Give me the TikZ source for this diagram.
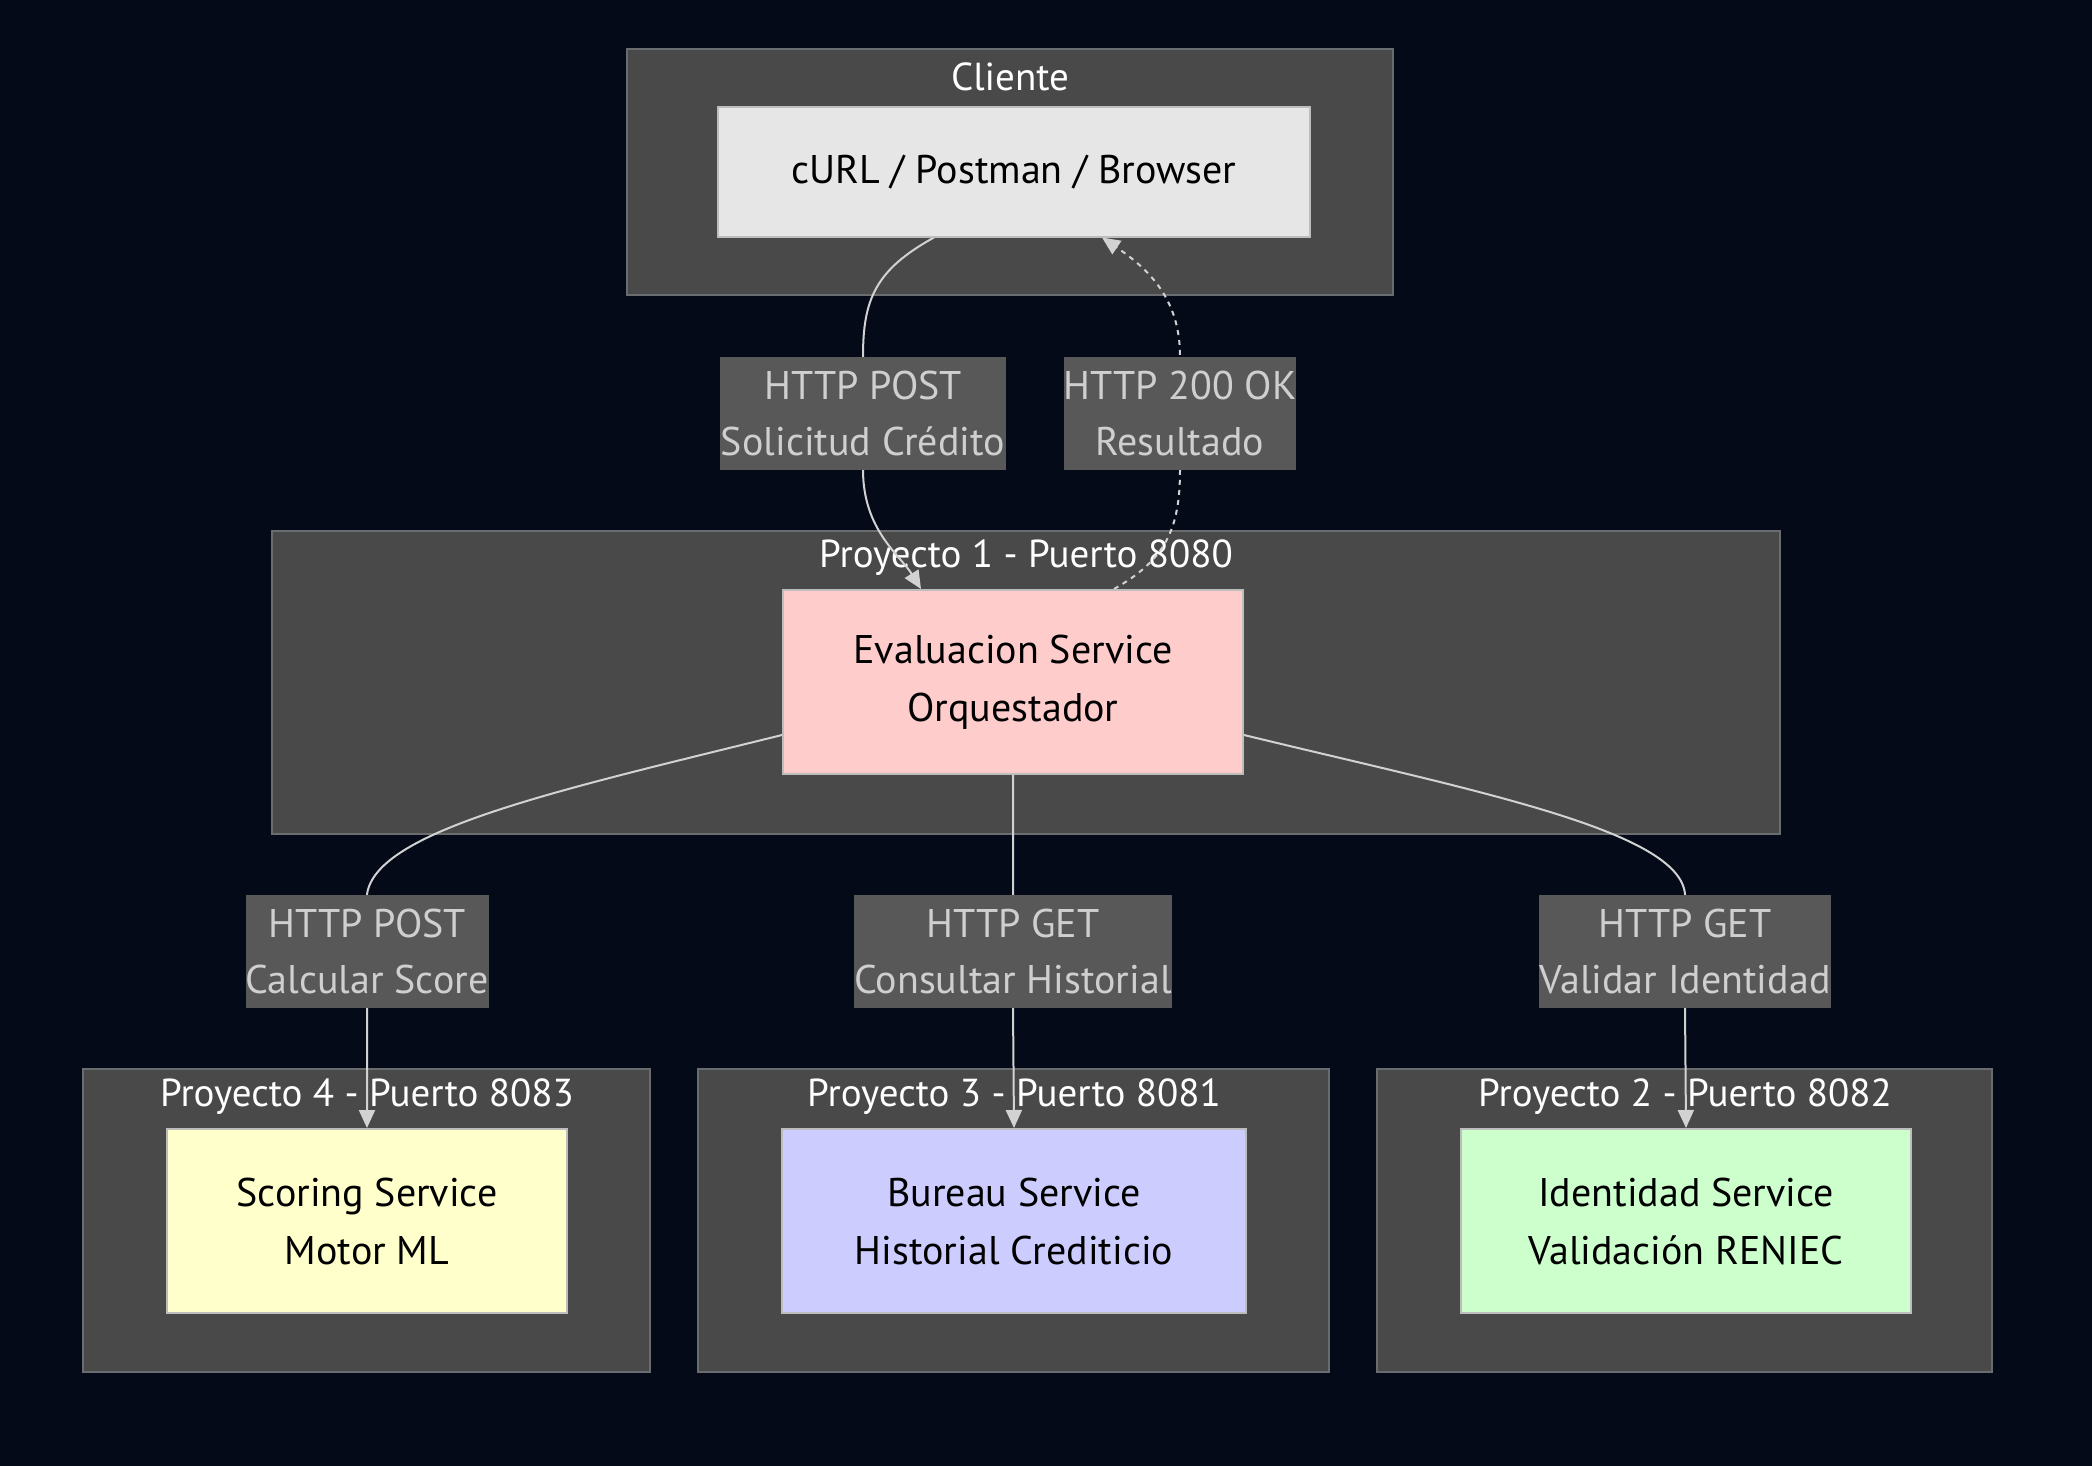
\documentclass[tikz,border=0pt]{standalone}
\usepackage{fontspec}
\setmainfont{PT Sans}
\usetikzlibrary{arrows.meta}
\pgfdeclarelayer{back}
\pgfdeclarelayer{links}
\pgfsetlayers{back,links,main}
\definecolor{canvas}{HTML}{040A18}
\definecolor{groupfill}{HTML}{484948}
\definecolor{groupline}{HTML}{6A6D70}
\definecolor{nodeline}{HTML}{BDBDBD}
\definecolor{lblfill}{HTML}{585858}
\definecolor{lbltext}{HTML}{CFCFCF}
\definecolor{linkcol}{HTML}{D2D2D2}
\definecolor{cliente}{HTML}{E6E6E6}
\definecolor{evalua}{HTML}{FFCCCC}
\definecolor{scoring}{HTML}{FFFFCC}
\definecolor{bureau}{HTML}{CCCCFF}
\definecolor{identi}{HTML}{CCFFCC}

\begin{document}
\begin{tikzpicture}[x=1pt, y=-1pt,
    group/.style={fill=groupfill, draw=groupline, line width=2pt},
    grouptitle/.style={text=white, font=\fontsize{39}{46}\selectfont, inner sep=0pt},
    svc/.style={draw=nodeline, line width=2pt, align=center, text=black, inner sep=0pt,
      font=\fontsize{40}{58}\selectfont, minimum height=184pt},
    lbl/.style={fill=lblfill, text=lbltext, align=center, inner xsep=0pt, inner ysep=0pt,
      font=\fontsize{40}{56}\selectfont, minimum height=113pt},
    link/.style={draw=linkcol, line width=2pt, -{Triangle[length=18pt,width=16pt]}}]

  % groups
  \begin{pgfonlayer}{back}
    \fill[canvas] (0,0) rectangle (2092,1466);
    \draw[group] (627,49) rectangle (1393,295);
    \draw[group] (272,531) rectangle (1780,834);
    \draw[group] (83,1069) rectangle (650,1372);
    \draw[group] (698,1069) rectangle (1329,1372);
    \draw[group] (1377,1069) rectangle (1992,1372);
    \node[grouptitle] (tcliente) at (1010,77) {Cliente};
    \node[grouptitle] (tp1) at (1026,558) {Proyecto 1 - Puerto 8080};
    \node[grouptitle] (tp4) at (367,1097) {Proyecto 4 - Puerto 8083};
    \node[grouptitle] (tp3) at (1014,1097) {Proyecto 3 - Puerto 8081};
    \node[grouptitle] (tp2) at (1685,1097) {Proyecto 2 - Puerto 8082};
  \end{pgfonlayer}

  % services
  \node[svc, fill=cliente, minimum width=592pt, minimum height=129pt] (client) at (1014,172) {cURL / Postman / Browser};
  \node[svc, fill=evalua, minimum width=460pt] (eval) at (1013,682) {Evaluacion Service\\Orquestador};
  \node[svc, fill=scoring, minimum width=400pt] (score) at (367,1221) {Scoring Service\\Motor ML};
  \node[svc, fill=bureau, minimum width=464pt] (bureau) at (1014,1221) {Bureau Service\\Historial Crediticio};
  \node[svc, fill=identi, minimum width=450pt] (ident) at (1686,1221) {Identidad Service\\Validación RENIEC};

  % edge labels
  \node[lbl, minimum width=286pt] (lpost) at (863,413) {HTTP POST\\Solicitud Crédito};
  \node[lbl, minimum width=220pt] (lok) at (1180,413) {HTTP 200 OK\\Resultado};
  \node[lbl, minimum width=243pt] (lscore) at (367,951) {HTTP POST\\Calcular Score};
  \node[lbl, minimum width=316pt] (lhist) at (1013,951) {HTTP GET\\Consultar Historial};
  \node[lbl, minimum width=288pt] (lident) at (1685,951) {HTTP GET\\Validar Identidad};

  % links
  \begin{pgfonlayer}{links}
    \draw[link] ([xshift=-80pt]client.south) .. controls (875,270) and (863,300) .. (lpost.north)
      -- (lpost.south) .. controls (863,530) and (900,555) .. ([xshift=-92pt]eval.north);
    \draw[link, dashed, dash pattern=on 5pt off 5pt] ([xshift=101pt]eval.north) .. controls (1165,560) and (1180,530) .. (lok.south)
      -- (lok.north) .. controls (1180,300) and (1150,270) .. ([xshift=88pt]client.south);
    \draw[link] ([yshift=-53pt]eval.west) .. controls (560,790) and (376,830) .. (lscore.north)
      -- (lscore.south) -- (score.north);
    \draw[link] (eval.south) -- (lhist.north) -- (lhist.south) -- (bureau.north);
    \draw[link] ([yshift=-53pt]eval.east) .. controls (1470,790) and (1680,830) .. (lident.north)
      -- (lident.south) -- (ident.north);
  \end{pgfonlayer}
\end{tikzpicture}
\end{document}
